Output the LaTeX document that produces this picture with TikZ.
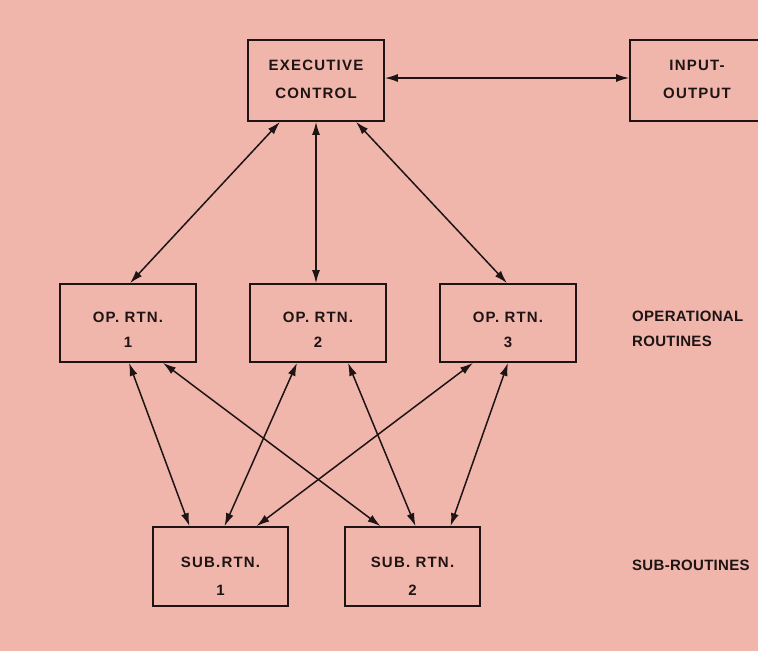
\documentclass[tikz,border=0pt]{standalone}
\usepackage{fontspec}
\newfontfamily\lbl[LetterSpace=8,BoldFont={Liberation Sans Bold}]{Liberation Sans}
\newfontfamily\sidelbl[LetterSpace=2,BoldFont={Liberation Sans Bold}]{Liberation Sans}
\usetikzlibrary{arrows.meta}
\definecolor{paper}{RGB}{240,182,172}
\definecolor{ink}{RGB}{30,20,20}
\begin{document}
\begin{tikzpicture}[x=1pt,y=-1pt,
  box/.style={draw=ink, line width=1.7pt, minimum width=136pt, minimum height=80pt, inner sep=0pt},
  txt/.style={font=\lbl\bfseries\fontsize{15}{18}\selectfont, text=ink, align=center, inner sep=0pt},
  sidetxt/.style={font=\sidelbl\bfseries\fontsize{15}{18}\selectfont, text=ink, align=left, inner sep=0pt},
  conn/.style={draw=ink, line width=1.5pt, {Latex[length=13pt,width=8pt]}-{Latex[length=13pt,width=8pt]}}]
\fill[paper] (0,0) rectangle (758,651);
\useasboundingbox (0,0) rectangle (758,651);
% boxes
\node[box, minimum height=81pt, label={[txt, yshift=1.5pt]center:EXECUTIVE\\[10pt]CONTROL}] (ec) at (316,80.5) {};
\node[box, minimum width=134pt, minimum height=81pt, label={[txt, yshift=1pt]center:INPUT-\\[10pt]OUTPUT}] (io) at (697,80.5) {};
\node[box, minimum height=78pt, label={[txt, yshift=-6.5pt]center:OP. RTN.\\[7pt]1}] (op1) at (128,323) {};
\node[box, minimum height=78pt, label={[txt, yshift=-6.5pt]center:OP. RTN.\\[7pt]2}] (op2) at (318,323) {};
\node[box, minimum height=78pt, label={[txt, yshift=-6.5pt]center:OP. RTN.\\[7pt]3}] (op3) at (508,323) {};
\node[box, minimum width=135pt, minimum height=79pt, label={[txt, yshift=-9.5pt]center:SUB.RTN.\\[10pt]1}] (sub1) at (220.5,566.5) {};
\node[box, minimum width=135pt, minimum height=79pt, label={[txt, yshift=-9.5pt]center:SUB. RTN.\\[10pt]2}] (sub2) at (412.5,566.5) {};
% side labels
\node[sidetxt, anchor=west] (oplab) at (632,329) {OPERATIONAL\\[7pt]ROUTINES};
\node[sidetxt, anchor=west] (sublab) at (632,565) {SUB-ROUTINES};
% connectors
\draw[conn] ([yshift=2.5pt]ec.east) -- ([yshift=2.5pt]io.west);
\draw[conn] ([xshift=-36pt]ec.south) -- ([xshift=2pt]op1.north);
\draw[conn] (ec.south) -- ([xshift=-2pt]op2.north);
\draw[conn] ([xshift=40pt]ec.south) -- ([xshift=-1pt]op3.north);
\draw[conn] ([xshift=1pt]op1.south) -- ([xshift=-31pt]sub1.north);
\draw[conn] ([xshift=35pt]op1.south) -- ([xshift=-32pt]sub2.north);
\draw[conn] ([xshift=-21pt]op2.south) -- ([xshift=4pt]sub1.north);
\draw[conn] ([xshift=30pt]op2.south) -- ([xshift=3pt]sub2.north);
\draw[conn] ([xshift=-35pt]op3.south) -- ([xshift=36pt]sub1.north);
\draw[conn] (op3.south) -- ([xshift=38pt]sub2.north);
\end{tikzpicture}
\end{document}
